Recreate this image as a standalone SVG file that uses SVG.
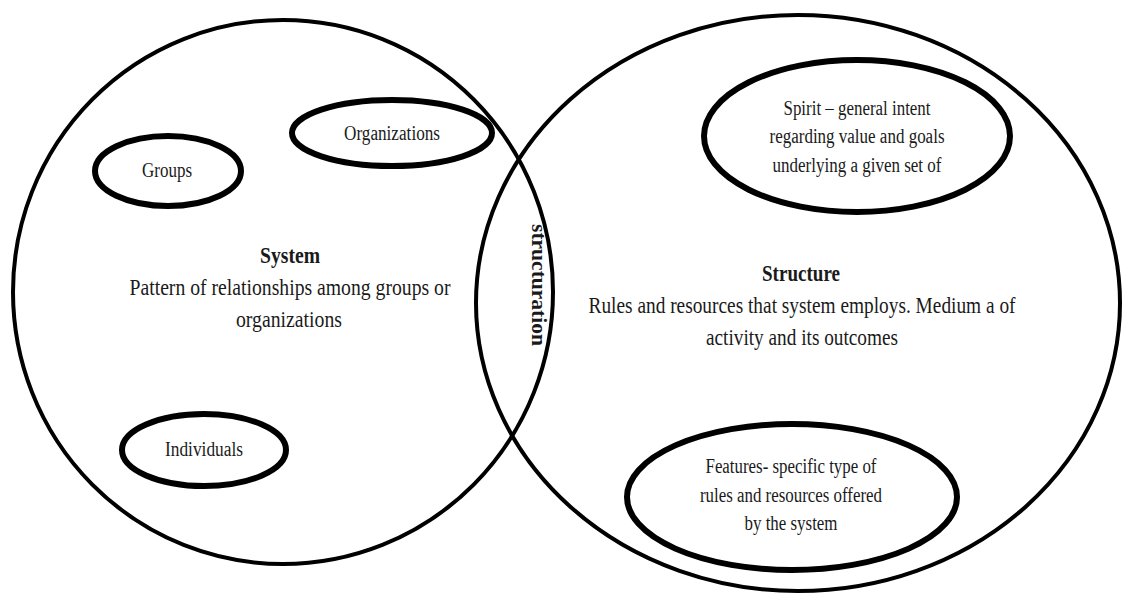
<svg xmlns="http://www.w3.org/2000/svg" width="1124" height="597" viewBox="0 0 1124 597">
<style>
.big{fill:none;stroke:#000;stroke-width:4}
.small{fill:none;stroke:#000;stroke-width:6}
text{font-family:"Liberation Serif","Times New Roman","DejaVu Serif",serif;fill:#1a1a1a;text-anchor:middle}
.t{font-size:20px}
.m{font-size:24px}
.b{font-weight:bold}
</style>
<rect width="1124" height="597" fill="#fff"/>
<g font-family="Liberation Serif, Times New Roman, serif">
<g id="system">
<ellipse class="big" cx="283" cy="292" rx="270" ry="272"/>
<text class="m b" x="290" y="263" textLength="60" lengthAdjust="spacingAndGlyphs">System</text>
<text class="m" x="290" y="295" textLength="321" lengthAdjust="spacingAndGlyphs">Pattern of relationships among groups or</text>
<text class="m" x="289" y="327" textLength="106" lengthAdjust="spacingAndGlyphs">organizations</text>
</g>
<g id="structure">
<ellipse class="big" cx="798" cy="303" rx="322" ry="288"/>
<text class="m b" x="801" y="281" textLength="78" lengthAdjust="spacingAndGlyphs">Structure</text>
<text class="m" x="802" y="313" textLength="427" lengthAdjust="spacingAndGlyphs">Rules and resources that system employs. Medium a of</text>
<text class="m" x="802" y="345" textLength="192" lengthAdjust="spacingAndGlyphs">activity and its outcomes</text>
</g>
<g id="groups">
<ellipse class="small" cx="168" cy="171" rx="73" ry="35"/>
<text class="t" x="167" y="177" textLength="50" lengthAdjust="spacingAndGlyphs">Groups</text>
</g>
<g id="organizations">
<ellipse class="small" cx="392" cy="133" rx="100" ry="33"/>
<text class="t" x="392" y="140" textLength="96" lengthAdjust="spacingAndGlyphs">Organizations</text>
</g>
<g id="individuals">
<ellipse class="small" cx="204" cy="450" rx="82" ry="36"/>
<text class="t" x="204" y="456" textLength="78" lengthAdjust="spacingAndGlyphs">Individuals</text>
</g>
<g id="spirit">
<ellipse class="small" cx="857" cy="136" rx="153" ry="76"/>
<text class="t" x="857" y="115" textLength="147" lengthAdjust="spacingAndGlyphs">Spirit – general intent</text>
<text class="t" x="857" y="143" textLength="175" lengthAdjust="spacingAndGlyphs">regarding value and goals</text>
<text class="t" x="857" y="172" textLength="169" lengthAdjust="spacingAndGlyphs">underlying a given set of</text>
</g>
<g id="features">
<ellipse class="small" cx="792" cy="497" rx="165" ry="73"/>
<text class="t" x="791" y="473" textLength="171" lengthAdjust="spacingAndGlyphs">Features- specific type of</text>
<text class="t" x="791" y="502" textLength="182" lengthAdjust="spacingAndGlyphs">rules and resources offered</text>
<text class="t" x="791" y="530" textLength="93" lengthAdjust="spacingAndGlyphs">by the system</text>
</g>
<g id="structuration">
<text class="b" transform="translate(532,285) rotate(90)" x="0" y="0" style="font-size:20px" textLength="122" lengthAdjust="spacingAndGlyphs">structuration</text>
</g>
</g>
<g id="connectors"></g>
</svg>
